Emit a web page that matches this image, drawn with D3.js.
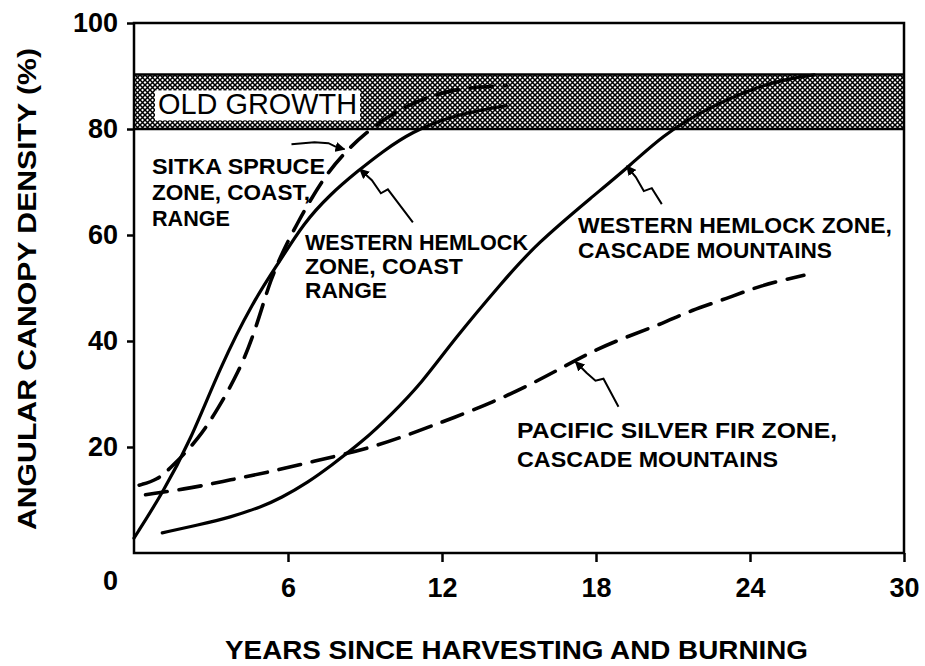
<!DOCTYPE html>
<meta charset="utf-8">
<style>
    body { margin: 0; background: #fff; }
    svg { display: block; }
    .axis text { font-family: "Liberation Sans", Arial, sans-serif; font-weight: bold; font-size: 27px; fill: #000; }
    .axis path, .axis line { stroke: #000; stroke-width: 2.5px; }
    .note { font-family: "Liberation Sans", Arial, sans-serif; font-weight: bold; font-size: 22px; fill: #000; }
    .title { font-family: "Liberation Sans", Arial, sans-serif; font-weight: bold; font-size: 26px; fill: #000; }
    .curve { fill: none; stroke: #000; stroke-width: 3.2px; stroke-linecap: round; }
    .dashed { stroke-dasharray: 22, 12; stroke-width: 3.6px; }
    .leader { fill: none; stroke: #000; stroke-width: 2px; }
</style>
<body>
<svg width="925" height="666"></svg>
</body>
<script src="https://cdn.jsdelivr.net/npm/d3@7"></script>
<script>

    // Western hemlock zone, Coast Range (solid)
    var whCoastYears = [0, 1.1, 2.2, 3.35, 4.64, 5.7, 6.6, 7.65, 8.7, 9.7, 10.8, 12.4, 14.5];
    var whCoastDensity = [2.8, 11.2, 21.2, 35, 47.5, 55.2, 62.2, 67.7, 72, 75.8, 79.4, 82.6, 84.4];

    // Sitka spruce zone, Coast Range (dashed)
    var sitkaYears = [0.2, 0.9, 1.5, 2.5, 3.3, 4.1, 4.6, 5.0, 5.3, 5.8, 6.4, 6.8, 7.5, 8.2, 9, 10, 11, 12, 13, 14.5];
    var sitkaDensity = [12.8, 13.7, 16.4, 21.4, 27.4, 34.4, 40.4, 46.4, 51.2, 57, 62.5, 66, 71.5, 75.5, 79.2, 82.7, 85.2, 86.9, 87.8, 88.2];

    // Western hemlock zone, Cascade Mountains (solid)
    var whCascadeYears = [1.1, 2.5, 3.75, 5, 5.7, 6.8, 7.65, 8.9, 10, 11.2, 12.45, 14.4, 15.65, 17.9, 19.3, 20.6, 22.2, 24.2, 25.6, 26.5];
    var whCascadeDensity = [3.8, 5.3, 6.7, 8.8, 10.3, 13.4, 16.4, 21, 26, 32, 40.2, 51.4, 58.2, 67.4, 73, 78.8, 83.6, 87.9, 89.6, 90.2];

    // Pacific silver fir zone, Cascade Mountains (dashed)
    var silverFirYears = [0.45, 2.3, 3.75, 5.3, 6.9, 9.4, 11.16, 12.45, 14, 15.5, 16.8, 18, 19.3, 20.6, 21.7, 23.1, 24.4, 26.1];
    var silverFirDensity = [11, 12.3, 13.8, 15.3, 17.2, 20, 23.2, 25.5, 28.5, 31.9, 35.3, 38.4, 41, 43.3, 45.8, 48, 50.5, 52.4];

    var oldGrowth = [80, 90.3];
    var xTicks = [0, 6, 12, 18, 24, 30];
    var yTicks = [20, 40, 60, 80, 100];

    var svg = d3.select("svg");

    var x = d3.scaleLinear().domain([0, 30]).range([134, 904]);
    var y = d3.scaleLinear().domain([0, 100]).range([553, 23]);

    function zip(a, b) {
        return a.map(function (d, i) { return [d, b[i]]; });
    }

    // hatch for the old growth band
    var defs = svg.append("defs");
    var pat = defs.append("pattern")
        .attr("id", "hatch")
        .attr("patternUnits", "userSpaceOnUse")
        .attr("width", 5)
        .attr("height", 5);
    pat.append("rect").attr("width", 5).attr("height", 5).attr("fill", "#fff");
    pat.append("path")
        .attr("d", "M0,0L5,5M5,0L0,5")
        .attr("stroke", "#000")
        .attr("stroke-width", 1.5);

    defs.append("marker")
        .attr("id", "head")
        .attr("viewBox", "0 0 10 10")
        .attr("refX", 9)
        .attr("refY", 5)
        .attr("markerWidth", 5)
        .attr("markerHeight", 5)
        .attr("orient", "auto")
        .append("path")
        .attr("d", "M0,0L10,5L0,10z")
        .attr("fill", "#000");

    svg.append("rect")
        .attr("x", x(0))
        .attr("width", x(30) - x(0))
        .attr("y", y(oldGrowth[1]))
        .attr("height", y(oldGrowth[0]) - y(oldGrowth[1]))
        .attr("fill", "url(#hatch)");

    oldGrowth.forEach(function (v) {
        svg.append("line")
            .attr("x1", x(0)).attr("x2", x(30))
            .attr("y1", y(v)).attr("y2", y(v))
            .attr("stroke", "#000").attr("stroke-width", 2.5);
    });

    svg.append("rect")
        .attr("x", 155)
        .attr("y", y(oldGrowth[1]) + 16)
        .attr("width", 205)
        .attr("height", 30)
        .attr("fill", "#fff");

    svg.append("text")
        .attr("x", 158)
        .attr("y", y(oldGrowth[1]) + 40)
        .attr("textLength", 199)
        .attr("lengthAdjust", "spacingAndGlyphs")
        .style("font-family", "'Liberation Sans', Arial, sans-serif")
        .style("font-size", "29px")
        .text("OLD GROWTH");

    // curves
    var line = d3.line()
        .x(function (d) { return x(d[0]); })
        .y(function (d) { return y(d[1]); })
        .curve(d3.curveBasis);

    var series = [
        { pts: zip(whCoastYears, whCoastDensity), dashed: false },
        { pts: zip(sitkaYears, sitkaDensity), dashed: true },
        { pts: zip(whCascadeYears, whCascadeDensity), dashed: false },
        { pts: zip(silverFirYears, silverFirDensity), dashed: true }
    ];

    svg.selectAll(".curve")
        .data(series)
        .enter().append("path")
        .attr("class", function (d) { return d.dashed ? "curve dashed" : "curve"; })
        .attr("d", function (d) { return line(d.pts); });

    // frame
    svg.append("rect")
        .attr("x", x(0))
        .attr("y", y(100))
        .attr("width", x(30) - x(0))
        .attr("height", y(0) - y(100))
        .attr("fill", "none")
        .attr("stroke", "#000")
        .attr("stroke-width", 2.5);

    // axes
    var xAxis = svg.append("g")
        .attr("class", "axis")
        .attr("transform", "translate(0," + y(0) + ")")
        .call(d3.axisBottom(x).tickValues(xTicks).tickSize(9).tickPadding(16).tickFormat(d3.format("d")));
    xAxis.select(".domain").remove();
    xAxis.selectAll(".tick")
        .filter(function (d) { return d === 0; })
        .select("text")
        .attr("dx", -24)
        .attr("dy", "0.45em");
    xAxis.selectAll(".tick")
        .filter(function (d) { return d === 0; })
        .select("line").remove();

    var yAxis = svg.append("g")
        .attr("class", "axis")
        .attr("transform", "translate(" + x(0) + ",0)")
        .call(d3.axisLeft(y).tickValues(yTicks).tickSize(7).tickPadding(9));
    yAxis.select(".domain").remove();

    // axis titles
    svg.append("text")
        .attr("class", "title")
        .attr("transform", "translate(36," + 289 + ") rotate(-90)")
        .attr("text-anchor", "middle")
        .attr("textLength", 482)
        .attr("lengthAdjust", "spacingAndGlyphs")
        .text("ANGULAR CANOPY DENSITY (%)");

    svg.append("text")
        .attr("class", "title")
        .attr("x", 225)
        .attr("y", 659)
        .attr("textLength", 583)
        .attr("lengthAdjust", "spacingAndGlyphs")
        .text("YEARS SINCE HARVESTING AND BURNING");

    // labels
    var notes = [
        { x: 152, y: 174, w: 173, t: "SITKA SPRUCE" },
        { x: 152, y: 200, w: 158, t: "ZONE, COAST," },
        { x: 152, y: 226, w: 78, t: "RANGE" },
        { x: 305, y: 250, w: 223, t: "WESTERN HEMLOCK" },
        { x: 305, y: 274, w: 158, t: "ZONE, COAST" },
        { x: 305, y: 298, w: 82, t: "RANGE" },
        { x: 578, y: 233, w: 314, t: "WESTERN HEMLOCK ZONE," },
        { x: 578, y: 258, w: 254, t: "CASCADE MOUNTAINS" },
        { x: 517, y: 438, w: 320, t: "PACIFIC SILVER FIR ZONE," },
        { x: 517, y: 467, w: 261, t: "CASCADE MOUNTAINS" }
    ];
    svg.selectAll(".note")
        .data(notes)
        .enter().append("text")
        .attr("class", "note")
        .attr("x", function (d) { return d.x; })
        .attr("y", function (d) { return d.y; })
        .attr("textLength", function (d) { return d.w; })
        .attr("lengthAdjust", "spacingAndGlyphs")
        .text(function (d) { return d.t; });

    // wiggly leader arrows, tip given in data units, bends as pixel offsets
    var leaders = [
        { tip: [8.2, 76.2], bends: [[-53, -5], [-30, -7], [-16, -6], [-8, -2]] },
        { tip: [8.8, 72.4], bends: [[53, 53], [28, 20], [21, 24], [12, 11]] },
        { tip: [19.2, 73], bends: [[35, 38], [25, 22], [17, 25], [9, 11]] },
        { tip: [17.2, 36.1], bends: [[43, 45], [28, 17], [20, 19], [11, 11]] }
    ];
    svg.selectAll(".leader")
        .data(leaders)
        .enter().append("path")
        .attr("class", "leader")
        .attr("marker-end", "url(#head)")
        .attr("d", function (d) {
            var tx = x(d.tip[0]), ty = y(d.tip[1]);
            var pts = d.bends.map(function (b) { return [tx + b[0], ty + b[1]]; });
            pts.push([tx, ty]);
            return d3.line()(pts);
        });

</script>
